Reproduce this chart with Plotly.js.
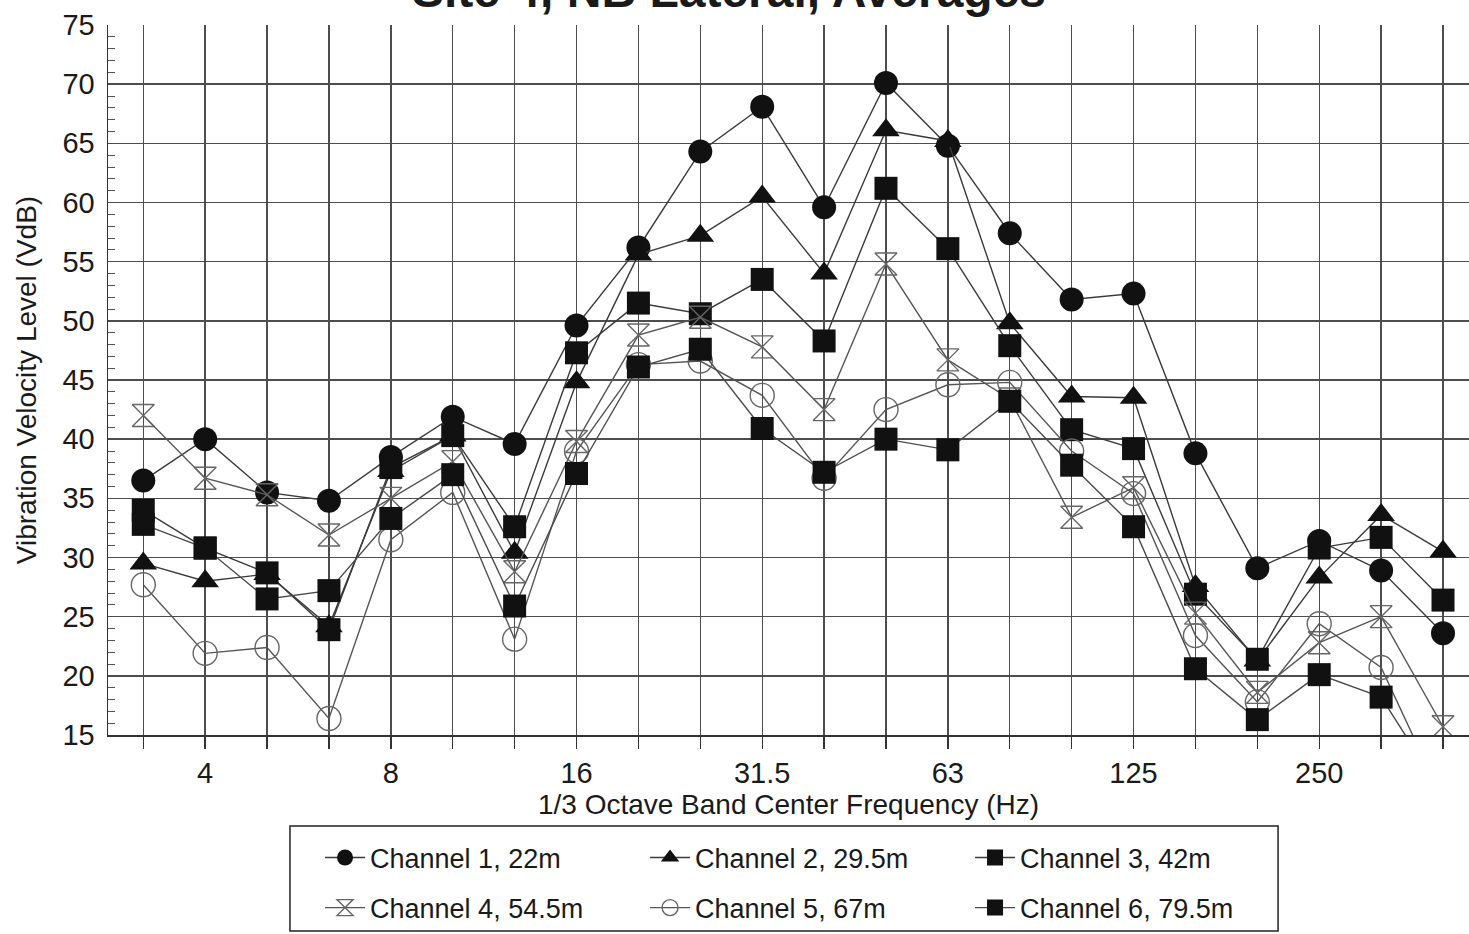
<!DOCTYPE html>
<html>
<head>
<meta charset="utf-8">
<script src="https://cdn.plot.ly/plotly-3.0.1.min.js"></script>
<style>
  html, body { margin: 0; padding: 0; background: #ffffff; }
  #chart { width: 1469px; height: 934px; }
</style>
</head>
<body>
<div id="chart"></div>
<script>
// 1/3 octave band centre frequencies (Hz)
const bands = ["3.15","4","5","6.3","8","10","12.5","16","20","25","31.5","40","50","63","80","100","125","160","200","250","315","400"];
// bands that carry a visible tick label
const labelledBands = ["4","8","16","31.5","63","125","250"];

// Vibration velocity level (VdB) per channel
const ch1 = [36.5,40.0,35.5,34.8,38.5,41.9,39.6,49.6,56.2,64.3,68.1,59.6,70.1,64.8,57.4,51.8,52.3,38.8,29.1,31.4,28.9,23.6];
const ch2 = [29.5,28.0,28.6,24.2,37.3,40.3,30.4,44.8,55.6,57.2,60.5,54.0,66.1,65.2,49.8,43.6,43.5,27.6,21.3,28.3,33.6,30.5];
const ch3 = [34.0,30.8,28.7,23.9,37.6,40.3,32.6,47.3,51.5,50.6,53.5,48.3,61.2,56.1,47.9,40.8,39.2,26.9,21.4,30.8,31.7,26.4];
const ch4 = [42.0,36.7,35.3,31.9,35.0,38.1,28.8,39.8,48.8,50.3,47.8,42.5,54.8,46.7,43.4,33.4,35.9,25.3,18.6,22.8,25.0,15.7];
const ch5 = [27.7,21.9,22.4,16.4,31.5,35.5,23.1,39.0,46.3,46.6,43.7,36.7,42.5,44.6,44.8,39.0,35.4,23.4,17.8,24.4,20.7,9.5];
const ch6 = [32.8,30.8,26.5,27.2,33.3,37.0,25.9,37.1,46.1,47.6,40.9,37.2,40.0,39.1,43.2,37.8,32.6,20.6,16.3,20.1,18.2,10.0];

const names = ["Channel 1, 22m","Channel 2, 29.5m","Channel 3, 42m","Channel 4, 54.5m","Channel 5, 67m","Channel 6, 79.5m"];

const FONT = "Liberation Sans, Arial, Helvetica, sans-serif";

function trace(y, name, legend, symbol, size, mcolor, lcolor, mline) {
  return {
    x: bands, y: y, name: name, type: "scatter", mode: "lines+markers",
    legend: legend,
    line: { color: lcolor, width: 1.4 },
    marker: { symbol: symbol, size: size, color: mcolor, line: mline },
    cliponaxis: true
  };
}

const data = [
  trace(ch1, names[0], "legend", "circle", 24, "#111", "#3a3a3a", { width: 0 }),
  trace(ch2, names[1], "legend", "triangle-up", 24, "#111", "#3a3a3a", { width: 0 }),
  trace(ch3, names[2], "legend", "square", 23, "#111", "#3a3a3a", { width: 0 }),
  trace(ch4, names[3], "legend2", "hourglass-open", 22, "#666", "#555", { width: 1.4, color: "#666" }),
  trace(ch5, names[4], "legend2", "circle-open", 24, "#666", "#555", { width: 1.4, color: "#666" }),
  trace(ch6, names[5], "legend2", "square", 23, "#111", "#4a4a4a", { width: 0 })
];

const legendCommon = {
  orientation: "h",
  xanchor: "left", yanchor: "middle",
  borderwidth: 0, bgcolor: "rgba(0,0,0,0)",
  font: { size: 27, family: FONT, color: "#1a1a1a" },
  entrywidth: 270, entrywidthmode: "pixels",
  itemwidth: 40
};

const layout = {
  width: 1469, height: 934,
  paper_bgcolor: "#ffffff", plot_bgcolor: "#ffffff",
  margin: { l: 108, r: 0, t: 25, b: 199 },
  font: { family: FONT, color: "#1a1a1a" },
  showlegend: true,
  xaxis: {
    type: "category",
    categoryorder: "array", categoryarray: bands,
    range: [-0.57, 21.42],
    tickmode: "array",
    tickvals: bands,
    ticktext: bands.map(b => labelledBands.includes(b) ? b : ""),
    ticks: "outside", ticklen: 12, tickwidth: 1.4, tickcolor: "#333",
    showgrid: true, gridcolor: "#4d4d4d", gridwidth: 1.4,
    showline: true, linecolor: "#333", linewidth: 1.5,
    tickfont: { size: 29, family: FONT, color: "#1a1a1a" },
    title: { text: "1/3 Octave Band Center Frequency (Hz)", font: { size: 28, family: FONT, color: "#1a1a1a" }, standoff: 6 },
    zeroline: false, fixedrange: true
  },
  yaxis: {
    range: [15, 75], dtick: 5, tick0: 15,
    ticks: "inside", ticklen: 0,
    ticklabelstandoff: 6,
    showgrid: true, gridcolor: "#4d4d4d", gridwidth: 1.4,
    showline: true, linecolor: "#333", linewidth: 1.5, mirror: false,
    minor: { dtick: 1, ticks: "inside", ticklen: 7, tickcolor: "#555", showgrid: false },
    tickfont: { size: 29, family: FONT, color: "#1a1a1a" },
    title: { text: "Vibration Velocity Level (VdB)", font: { size: 28, family: FONT, color: "#1a1a1a" }, standoff: 17 },
    zeroline: false, fixedrange: true
  },
  legend: Object.assign({}, legendCommon, { x: 0.1558, y: -0.1732 }),
  legend2: Object.assign({}, legendCommon, { x: 0.1558, y: -0.2437 }),
  shapes: [{
    type: "rect", xref: "paper", yref: "paper",
    x0: 0.1337, x1: 0.8597, y0: -0.276, y1: -0.1282,
    line: { color: "#222", width: 1.5 }, fillcolor: "rgba(0,0,0,0)"
  }],
  annotations: [{
    text: "<b>Site 4, NB Lateral, Averages</b>",
    xref: "paper", yref: "paper", x: 0.456, y: 1.0085,
    xanchor: "center", yanchor: "bottom", showarrow: false,
    font: { size: 48, family: FONT, color: "#1a1a1a" }
  }]
};

Plotly.newPlot("chart", data, layout, { displayModeBar: false, staticPlot: true });
</script>
</body>
</html>
